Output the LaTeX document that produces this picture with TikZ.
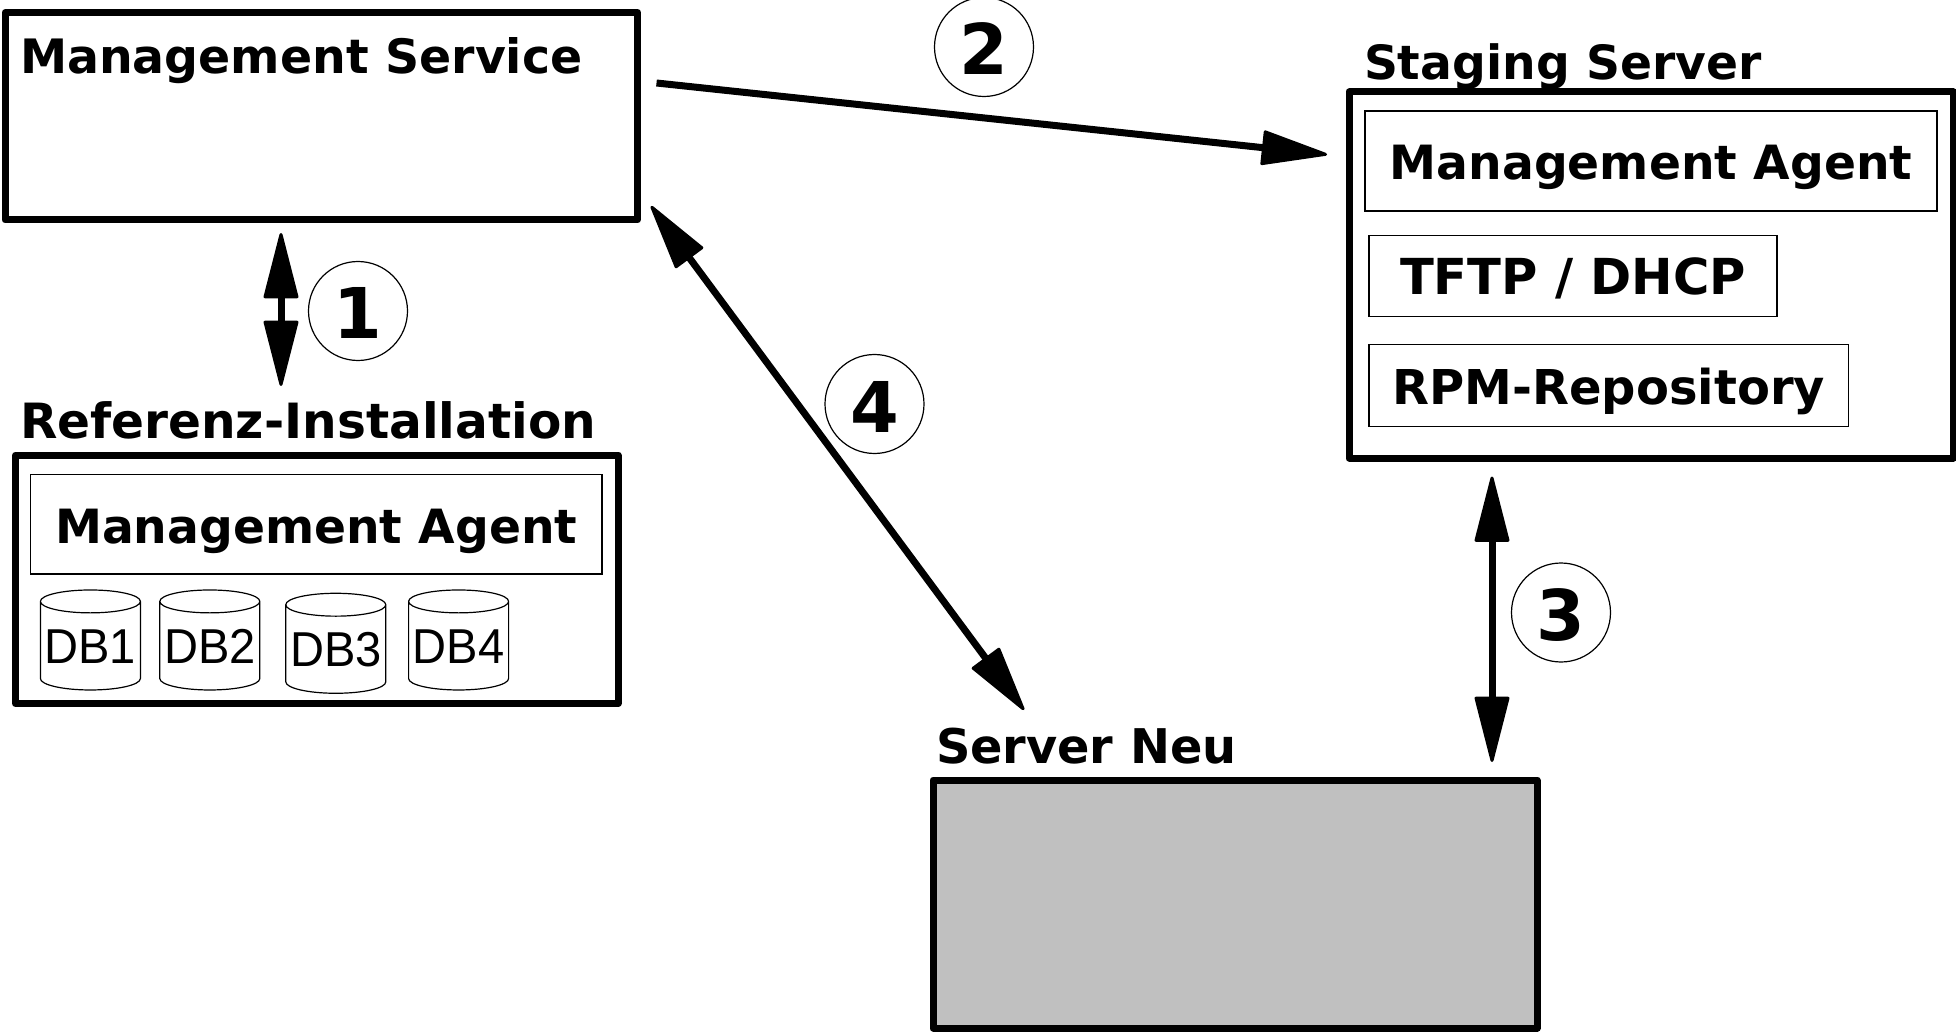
\documentclass[tikz,border=0pt]{standalone}
\usepackage{fontspec}
\usetikzlibrary{arrows.meta,shapes.geometric}
\newfontfamily\lblfont{DejaVu Sans}
\newfontfamily\dbfont{Liberation Sans}[FakeStretch=0.96]
\definecolor{servergray}{HTML}{C0C0C0}
\tikzset{
  fs/.style={font=\lblfont\bfseries\fontsize{#1}{24}\selectfont},
  outerbox/.style={draw=black,line width=3.5pt,line join=round,inner sep=0pt,outer sep=0pt,anchor=north west},
  innerbox/.style={draw=black,line width=0.7pt,inner sep=0pt,outer sep=0pt,anchor=north west,text height=19pt,text depth=0pt,fs=23.6},
  title/.style={inner sep=0pt,outer sep=0pt,anchor=base west,fs=23.6},
  dbcyl/.style={cylinder,shape border rotate=90,shape aspect=0.25,draw=black,line width=0.6pt,inner sep=0pt,outer sep=0pt,minimum width=50pt,minimum height=50pt,text height=17pt,text depth=0pt,font=\dbfont\fontsize{24.5}{24.5}\selectfont},
  stepcircle/.style={circle,draw=black,line width=0.6pt,inner sep=0pt,outer sep=0pt,minimum size=49.5pt,text height=28pt,text depth=0pt,fs=35},
  link/.style={line width=3.5pt,-{Triangle[length=35pt,width=17.5pt,line width=1.5pt,round]}},
  dlink/.style={line width=3.5pt,{Triangle[length=35pt,width=17.5pt,line width=1.5pt,round]}-{Triangle[length=35pt,width=17.5pt,line width=1.5pt,round]}},
}
\begin{document}
\begin{tikzpicture}[x=0.5pt,y=-0.5pt]
\useasboundingbox (0,0) rectangle (1956,1032);
% boxes
\node[outerbox,minimum width=316.25pt,minimum height=103.75pt] (ms) at (5,12.5) {};
\node[title,fs=23.7] (mst) at (20,74) {Management Service};

\node[outerbox,minimum width=301.25pt,minimum height=124.25pt] (ri) at (15.5,455) {};
\node[title,fs=24.3] (rit) at (20,438.5) {Referenz-Installation};
\node[innerbox,minimum width=285.7pt,minimum height=49.85pt] (rima) at (30.6,474.3) {Management Agent};
\node[dbcyl] (db1) at (90.4,646) {DB1};
\node[dbcyl] (db2) at (209.8,646) {DB2};
\node[dbcyl] (db3) at (335.8,649.3) {DB3};
\node[dbcyl] (db4) at (458.6,646) {DB4};

\node[outerbox,minimum width=302pt,minimum height=183pt] (ss) at (1349,92) {};
\node[title] (sst) at (1364,80) {Staging Server};
\node[innerbox,minimum width=286pt,minimum height=50pt] (ssma) at (1365,111) {Management Agent};
\node[innerbox,fs=24.8,minimum width=204pt,minimum height=40.5pt] (tftp) at (1369,235.3) {TFTP / DHCP};
\node[innerbox,fs=24,minimum width=239.75pt,minimum height=40.8pt] (rpm) at (1369,344.7) {RPM-Repository};

\node[title,fs=23.9] (snt) at (936,763) {Server Neu};
\node[outerbox,fill=servergray,minimum width=302pt,minimum height=124pt] (sn) at (933,780) {};
% circles
\node[stepcircle] (c1) at (358,311) {1};
\node[stepcircle] (c2) at (984,47) {2};
\node[stepcircle] (c3) at (1561,612.5) {3};
\node[stepcircle] (c4) at (874.5,404) {4};
% connector ends
\coordinate (a1a) at (281,233);
\coordinate (a1b) at (281,386);
\coordinate (a2a) at (656.5,83);
\coordinate (a2b) at (1327,154.5);
\coordinate (a3a) at (1492,476.5);
\coordinate (a3b) at (1492,762);
\coordinate (a4a) at (651,206);
\coordinate (a4b) at (1024,710);
\draw[dlink] (a1a) -- (a1b);
\draw[link] (a2a) -- (a2b);
\draw[dlink] (a3a) -- (a3b);
\draw[dlink] (a4a) -- (a4b);
\end{tikzpicture}
\end{document}
